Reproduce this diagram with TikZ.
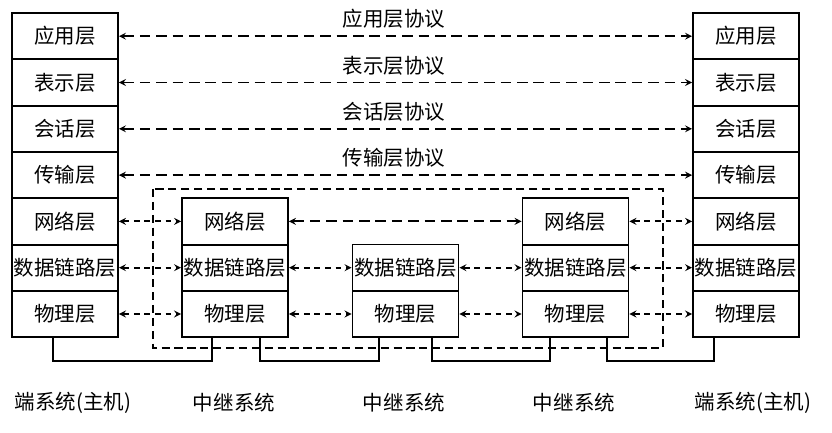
\documentclass[tikz,border=0pt]{standalone}
\usepackage{fontspec}
\newfontfamily\cjk{Noto Sans CJK SC}
\usepackage{tikz}
\usetikzlibrary{arrows, calc}
\tikzstyle{layer} = [draw,line width=1.6pt,minimum width=3.18cm,minimum height=1.39cm,inner sep=0pt]
\tikzstyle{arrow} = [line width=1.6pt,<->,>=stealth,dash pattern=on 9pt off 5pt]
\tikzstyle{shortarrow} = [line width=1.6pt,<->,>=stealth,dash pattern=on 5pt off 4pt]
\tikzstyle{wire} = [line width=1.3pt]

\begin{document}
\begin{tikzpicture}[x=0.03cm,y=-0.03cm,font=\cjk\fontsize{17.5pt}{20pt}\selectfont]
\useasboundingbox (0,0) rectangle (832,433);
\draw[line width=1.3pt,dash pattern=on 7pt off 4pt] (153,189) rectangle (663,348);
\node[layer] (l1) at (65,36.2) {应用层};
\node[layer] (l2) at (65,82.5) {表示层};
\node[layer] (l3) at (65,128.8) {会话层};
\node[layer] (l4) at (65,175.1) {传输层};
\node[layer] (l5) at (65,221.4) {网络层};
\node[layer] (l6) at (65,267.7) {数据链路层};
\node[layer] (l7) at (65,314) {物理层};
\node[layer] (a5) at (235,221.4) {网络层};
\node[layer] (a6) at (235,267.7) {数据链路层};
\node[layer] (a7) at (235,314) {物理层};
\node[layer] (b6) at (405.5,267.7) {数据链路层};
\node[layer] (b7) at (405.5,314) {物理层};
\node[layer] (c5) at (575.5,221.4) {网络层};
\node[layer] (c6) at (575.5,267.7) {数据链路层};
\node[layer] (c7) at (575.5,314) {物理层};
\node[layer] (r1) at (746,36.2) {应用层};
\node[layer] (r2) at (746,82.5) {表示层};
\node[layer] (r3) at (746,128.8) {会话层};
\node[layer] (r4) at (746,175.1) {传输层};
\node[layer] (r5) at (746,221.4) {网络层};
\node[layer] (r6) at (746,267.7) {数据链路层};
\node[layer] (r7) at (746,314) {物理层};
\draw[arrow] (l1.east) -- (r1.west) node[pos=0.48,yshift=0.51cm] (p1) {应用层协议};
\draw[arrow] (l2.east) -- (r2.west) node[pos=0.48,yshift=0.51cm] (p2) {表示层协议};
\draw[arrow] (l3.east) -- (r3.west) node[pos=0.48,yshift=0.51cm] (p3) {会话层协议};
\draw[arrow] (l4.east) -- (r4.west) node[pos=0.48,yshift=0.51cm] (p4) {传输层协议};
\draw[shortarrow] (l5.east) -- (a5.west);
\draw[shortarrow] (l6.east) -- (a6.west);
\draw[shortarrow] (l7.east) -- (a7.west);
\draw[arrow] (a5.east) -- (c5.west);
\draw[shortarrow] (a6.east) -- (b6.west);
\draw[shortarrow] (a7.east) -- (b7.west);
\draw[shortarrow] (b6.east) -- (c6.west);
\draw[shortarrow] (b7.east) -- (c7.west);
\draw[shortarrow] (c5.east) -- (r5.west);
\draw[shortarrow] (c6.east) -- (r6.west);
\draw[shortarrow] (c7.east) -- (r7.west);
\draw[wire] ($(l7.south)+(-12,0)$) -- ++(0,23) -| ($(a7.south)+(-23,0)$);
\draw[wire] ($(a7.south)+(25,0)$) -- ++(0,23) -| ($(b7.south)+(-26.5,0)$);
\draw[wire] ($(b7.south)+(26.5,0)$) -- ++(0,23) -| ($(c7.south)+(-25.5,0)$);
\draw[wire] ($(c7.south)+(31.5,0)$) -- ++(0,23) -| ($(r7.south)+(-32,0)$);
\node (h1) at (73,403) {端系统(主机)};
\node (m1) at (234,403) {中继系统};
\node (m2) at (404,403) {中继系统};
\node (m3) at (574,403) {中继系统};
\node (h2) at (753,403) {端系统(主机)};
\end{tikzpicture}
\end{document}
